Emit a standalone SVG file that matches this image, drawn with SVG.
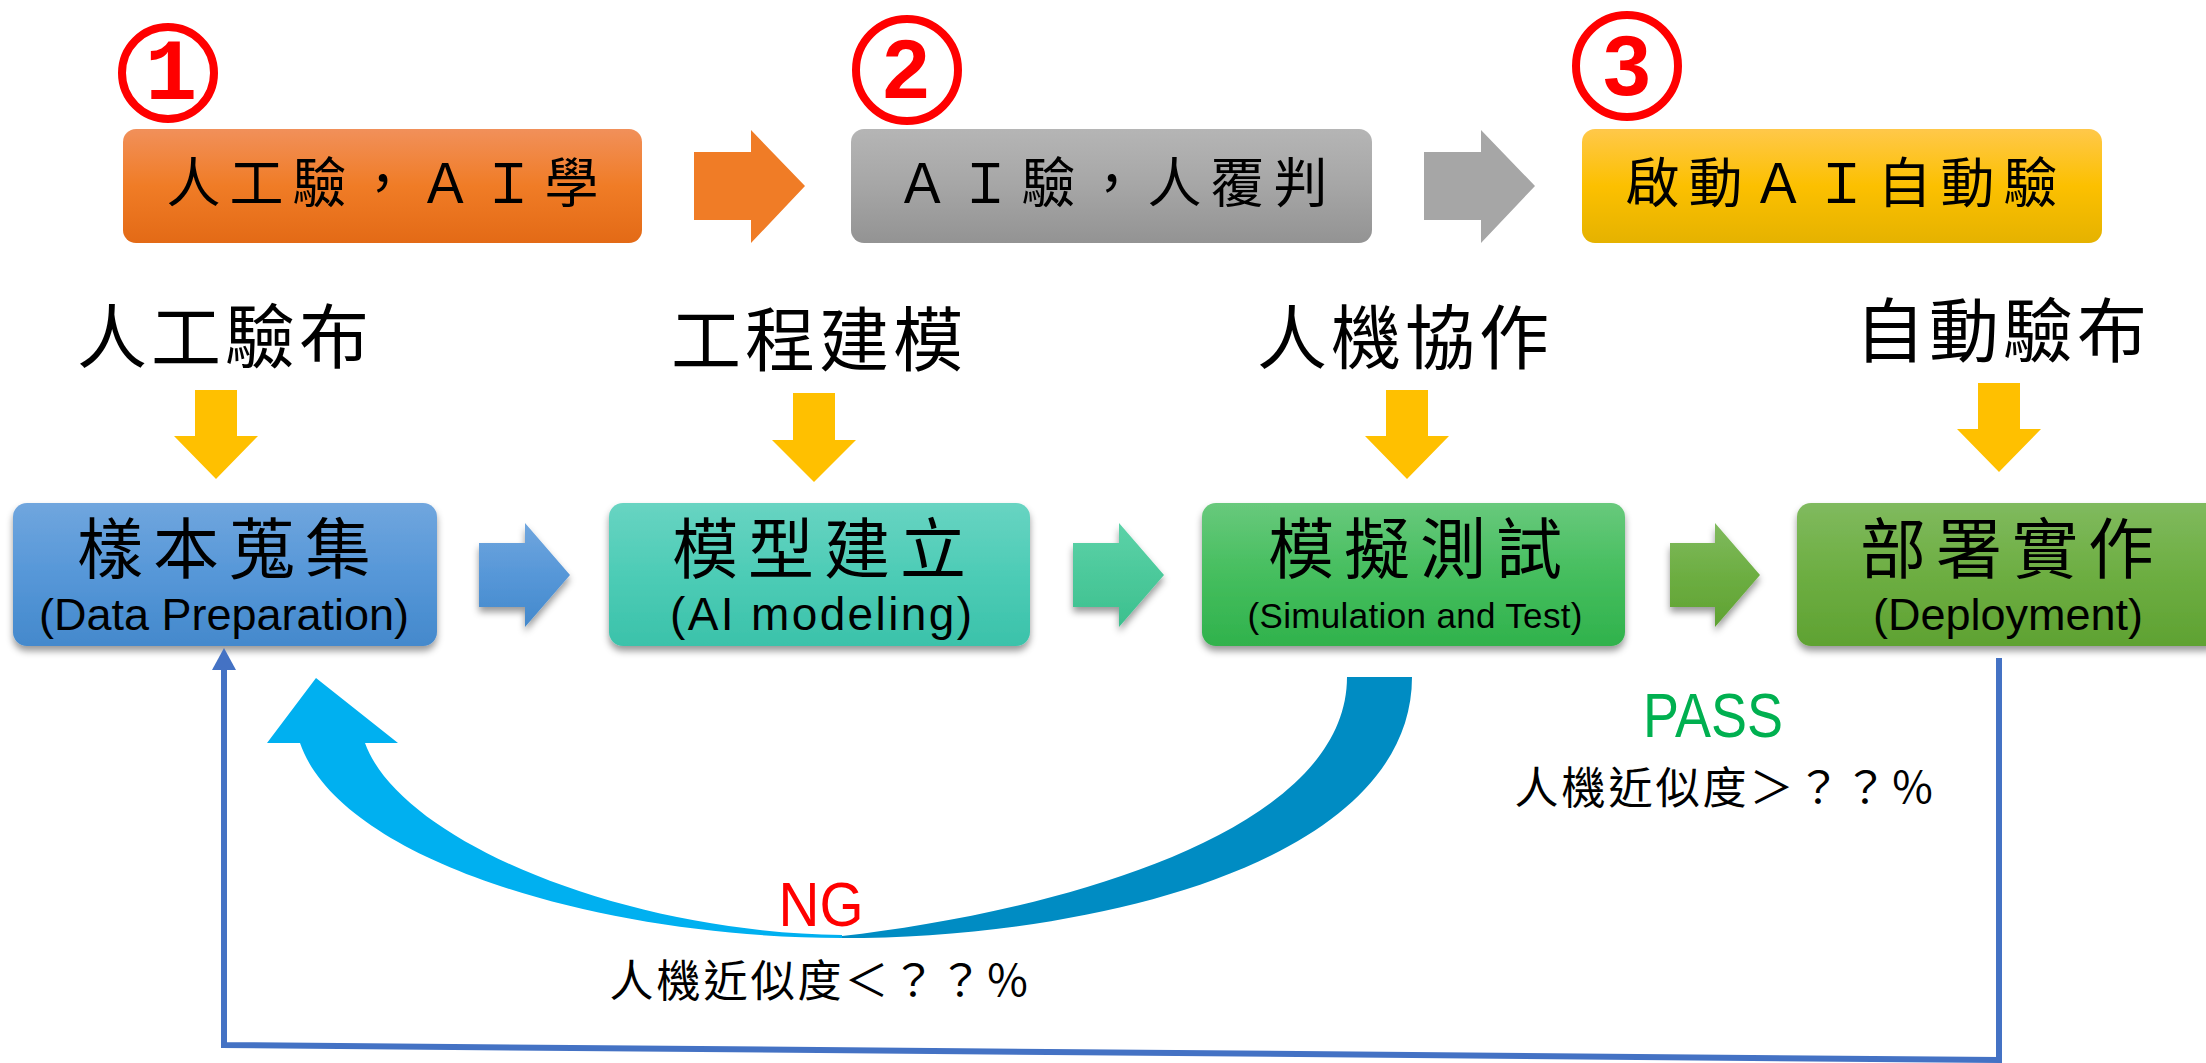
<svg xmlns="http://www.w3.org/2000/svg" width="2206" height="1063" viewBox="0 0 2206 1063">
<style>
.cjk{font-family:"Noto Sans CJK TC","Noto Sans CJK SC",sans-serif;fill:#000;text-anchor:middle}
.lat{font-family:"Liberation Sans",Arial,sans-serif;fill:#000;text-anchor:middle}
.num{stroke:#FF0000;stroke-width:8;fill:none}
.numt{fill:#FF0000;font-weight:bold;text-anchor:middle}
.ya{fill:#FFC000}
</style>
<defs>
<linearGradient id="gOr" x1="0" y1="0" x2="0" y2="1"><stop offset="0" stop-color="#F1905A"/><stop offset="0.5" stop-color="#F07C26"/><stop offset="1" stop-color="#E36A16"/></linearGradient>
<linearGradient id="gGr" x1="0" y1="0" x2="0" y2="1"><stop offset="0" stop-color="#B5B5B5"/><stop offset="0.5" stop-color="#A6A6A6"/><stop offset="1" stop-color="#939393"/></linearGradient>
<linearGradient id="gYe" x1="0" y1="0" x2="0" y2="1"><stop offset="0" stop-color="#FFC84A"/><stop offset="0.5" stop-color="#FCC000"/><stop offset="1" stop-color="#E5B200"/></linearGradient>
<linearGradient id="gBl" x1="0" y1="0" x2="0" y2="1"><stop offset="0" stop-color="#70A6DE"/><stop offset="0.5" stop-color="#5697D8"/><stop offset="1" stop-color="#4489CC"/></linearGradient>
<linearGradient id="gTe" x1="0" y1="0" x2="0" y2="1"><stop offset="0" stop-color="#68D4C2"/><stop offset="0.5" stop-color="#4DCCB6"/><stop offset="1" stop-color="#3BC2AA"/></linearGradient>
<linearGradient id="gGn" x1="0" y1="0" x2="0" y2="1"><stop offset="0" stop-color="#68C97C"/><stop offset="0.5" stop-color="#45BE5E"/><stop offset="1" stop-color="#30B24C"/></linearGradient>
<linearGradient id="gOl" x1="0" y1="0" x2="0" y2="1"><stop offset="0" stop-color="#80BA5E"/><stop offset="0.5" stop-color="#6DAE42"/><stop offset="1" stop-color="#5FA232"/></linearGradient>
<linearGradient id="gTA" x1="0" y1="0" x2="0" y2="1"><stop offset="0" stop-color="#5CD2A8"/><stop offset="1" stop-color="#3CC08E"/></linearGradient>
<filter id="sh" x="-10%" y="-10%" width="120%" height="130%"><feDropShadow dx="0" dy="5" stdDeviation="3.5" flood-color="#000" flood-opacity="0.4"/></filter>
</defs>
<rect width="2206" height="1063" fill="#FFFFFF"/>

<g id="step1">
<circle class="num" cx="168" cy="73" r="46"/>
<text class="numt" x="171" y="99" font-family="'Liberation Mono',monospace" font-size="87">1</text>
<rect x="123" y="129" width="519" height="114" rx="13" fill="url(#gOr)"/>
<text class="cjk" x="387" y="203" font-size="54" letter-spacing="9">人工驗，ＡＩ學</text>
</g>
<g id="step2">
<circle class="num" cx="907" cy="70" r="51"/>
<text class="numt" x="906" y="98" font-family="'Liberation Sans',Arial,sans-serif" font-size="84">2</text>
<rect x="851" y="129" width="521" height="114" rx="13" fill="url(#gGr)"/>
<text class="cjk" x="1116" y="203" font-size="54" letter-spacing="9">ＡＩ驗，人覆判</text>
</g>
<g id="step3">
<circle class="num" cx="1627" cy="66" r="51"/>
<text class="numt" x="1627" y="95" font-family="'Liberation Sans',Arial,sans-serif" font-size="86">3</text>
<rect x="1582" y="129" width="520" height="114" rx="13" fill="url(#gYe)"/>
<text class="cjk" x="1846" y="203" font-size="54" letter-spacing="9">啟動ＡＩ自動驗</text>
</g>

<g id="labels">
<text class="cjk" x="225" y="363" font-size="70" letter-spacing="4">人工驗布</text>
<text class="cjk" x="819" y="366" font-size="70" letter-spacing="4">工程建模</text>
<text class="cjk" x="1405" y="364" font-size="70" letter-spacing="4">人機協作</text>
<text class="cjk" x="2003" y="357" font-size="70" letter-spacing="4">自動驗布</text>
</g>

<g id="node-data">
<rect x="13" y="503" width="424" height="143" rx="14" fill="url(#gBl)" filter="url(#sh)"/>
<text class="cjk" x="229" y="573" font-size="66" letter-spacing="10">樣本蒐集</text>
<text class="lat" x="224" y="630" font-size="45" textLength="370">(Data Preparation)</text>
</g>
<g id="node-model">
<rect x="609" y="503" width="421" height="143" rx="14" fill="url(#gTe)" filter="url(#sh)"/>
<text class="cjk" x="824" y="573" font-size="66" letter-spacing="10">模型建立</text>
<text class="lat" x="821" y="630" font-size="46" textLength="302">(AI modeling)</text>
</g>
<g id="node-sim">
<rect x="1202" y="503" width="423" height="143" rx="14" fill="url(#gGn)" filter="url(#sh)"/>
<text class="cjk" x="1420" y="573" font-size="66" letter-spacing="10">模擬測試</text>
<text class="lat" x="1415" y="628" font-size="35" textLength="335">(Simulation and Test)</text>
</g>
<g id="node-deploy">
<rect x="1797" y="503" width="423" height="143" rx="14" fill="url(#gOl)" filter="url(#sh)"/>
<text class="cjk" x="2012" y="573" font-size="66" letter-spacing="10">部署實作</text>
<text class="lat" x="2008" y="630" font-size="45" textLength="270">(Deployment)</text>
</g>

<g id="connectors">
<polygon points="694,152 751,152 751,130 805,186 751,243 751,220 694,220" fill="#F07C26"/>
<polygon points="1424,152 1481,152 1481,130 1535,186 1481,243 1481,220 1424,220" fill="#A6A6A6"/>
<polygon class="ya" points="195,390 237,390 237,436 258,436 216,479 174,436 195,436"/>
<polygon class="ya" points="793,393 835,393 835,440 856,440 814,482 772,440 793,440"/>
<polygon class="ya" points="1386,390 1428,390 1428,436 1449,436 1407,479 1365,436 1386,436"/>
<polygon class="ya" points="1978,383 2020,383 2020,429 2041,429 1999,472 1957,429 1978,429"/>
<polygon points="479,543 525,543 525,523 570,575 525,627 525,607 479,607" fill="url(#gBl)" filter="url(#sh)"/>
<polygon points="1073,543 1119,543 1119,523 1164,575 1119,627 1119,607 1073,607" fill="url(#gTA)" filter="url(#sh)"/>
<polygon points="1670,543 1715,543 1715,523 1760,575 1715,627 1715,607 1670,607" fill="url(#gOl)" filter="url(#sh)"/>
<path d="M842,938 C1100,938 1412,860 1412,677 L1347,677 C1347,840 1030,915 842,936 Z" fill="#008CC3"/>
<path d="M300,743 C340,860 600,938 842,938 L842,935 C620,932 400,840 365,743 L398,743 L316,678 L267,743 Z" fill="#00B0F0"/>
<polyline points="1999,658 1999,1060 224,1045 224,665" fill="none" stroke="#4472C4" stroke-width="6"/>
<polygon points="224,648 236,670 212,670" fill="#4472C4"/>
</g>

<g id="notes">
<text class="lat" x="821" y="926" font-size="63" fill="#FF0000" style="fill:#FF0000" textLength="85" lengthAdjust="spacingAndGlyphs">NG</text>
<text class="cjk" x="821" y="997" font-size="44" letter-spacing="3">人機近似度＜？？％</text>
<text class="lat" x="1713" y="737" font-size="63" style="fill:#00B050" textLength="140" lengthAdjust="spacingAndGlyphs">PASS</text>
<text class="cjk" x="1726" y="804" font-size="44" letter-spacing="3">人機近似度＞？？％</text>
</g>
</svg>
